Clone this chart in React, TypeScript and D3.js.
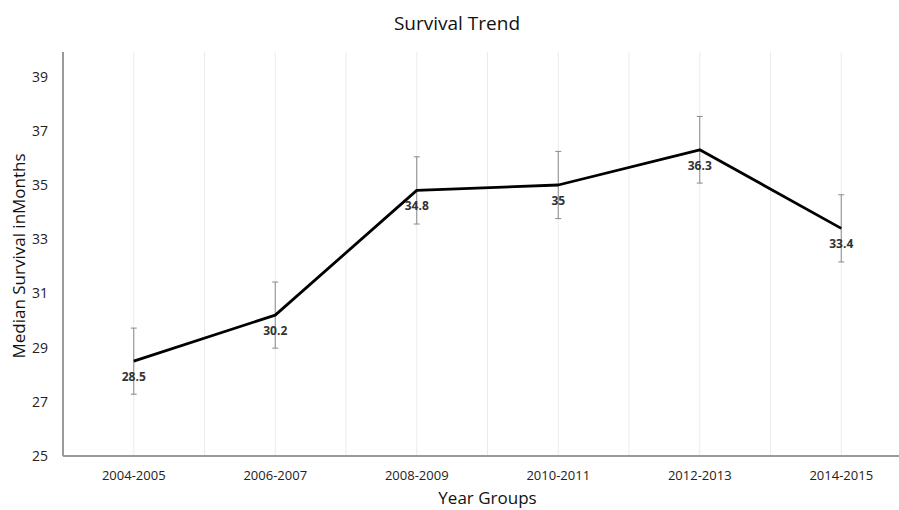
import React from "react";
import * as d3 from "d3";

const yearGroups = ["2004-2005", "2006-2007", "2008-2009", "2010-2011", "2012-2013", "2014-2015"];
const medianSurvival = [28.5, 30.2, 34.8, 35, 36.3, 33.4];
const errorAmount = [1.22, 1.22, 1.24, 1.24, 1.23, 1.24];
const yTicks = [25, 27, 29, 31, 33, 35, 37, 39];

const W = 899;
const H = 510;
const left = 63;
const right = 912;
const top = 52;
const bottom = 456;
const font = "'Open Sans', Lato, sans-serif";

export default function App() {
  const x = d3.scaleBand<string>().domain(yearGroups).range([left, right]);
  const y = d3.scaleLinear().domain([25, 39]).range([bottom, bottom - 14 * 27.1]);
  const cx = (c: string) => (x(c) as number) + x.bandwidth() / 2;

  const line = d3
    .line<number>()
    .x((_, i) => cx(yearGroups[i]))
    .y((v) => y(v));

  const gridXs: number[] = [];
  yearGroups.forEach((c, i) => {
    gridXs.push(cx(c));
    if (i > 0) gridXs.push(x(c) as number);
  });

  return (
    <svg width={W} height={H} style={{ position: "absolute", left: 0, top: 0, background: "#fff" }}>
      <text x={457} y={30} textAnchor="middle" fontFamily={font} fontSize={19} fill="#111">
        Survival Trend
      </text>
      {gridXs.map((gx, i) => (
        <line key={i} x1={gx} x2={gx} y1={top} y2={bottom} stroke="#ebebeb" strokeWidth={1} />
      ))}
      <line x1={left} x2={W} y1={bottom} y2={bottom} stroke="#9a9a9a" strokeWidth={2} />
      <line x1={left} x2={left} y1={top} y2={bottom} stroke="#9a9a9a" strokeWidth={2} />
      {yTicks.map((t) => (
        <text key={t} x={48} y={y(t)} dy="0.35em" textAnchor="end" fontFamily={font} fontSize={14} fill="#222">
          {t}
        </text>
      ))}
      {yearGroups.map((c) => (
        <text key={c} x={cx(c)} y={480} textAnchor="middle" fontFamily={font} fontSize={13} fill="#222">
          {c}
        </text>
      ))}
      <text
        transform={`translate(25,${(top + bottom) / 2 + 2}) rotate(-90)`}
        textAnchor="middle"
        fontFamily={font}
        fontSize={17}
        fill="#111"
      >
        Median Survival inMonths
      </text>
      <text x={(left + right) / 2} y={504} textAnchor="middle" fontFamily={font} fontSize={17} fill="#111">
        Year Groups
      </text>
      {medianSurvival.map((v, i) => {
        const px = cx(yearGroups[i]);
        const e = errorAmount[i];
        return (
          <g key={i} stroke="#8a8a8a" strokeWidth={1}>
            <line x1={px} x2={px} y1={y(v + e)} y2={y(v - e)} />
            <line x1={px - 3} x2={px + 3} y1={y(v + e)} y2={y(v + e)} />
            <line x1={px - 3} x2={px + 3} y1={y(v - e)} y2={y(v - e)} />
          </g>
        );
      })}
      <path d={line(medianSurvival) || ""} fill="none" stroke="#000" strokeWidth={2.8} strokeLinejoin="round" />
      {medianSurvival.map((v, i) => (
        <text
          key={i}
          x={cx(yearGroups[i])}
          y={y(v) + 20}
          textAnchor="middle"
          fontFamily={font}
          fontSize={12}
          fontWeight="bold"
          fill="#333"
        >
          {v}
        </text>
      ))}
    </svg>
  );
}
